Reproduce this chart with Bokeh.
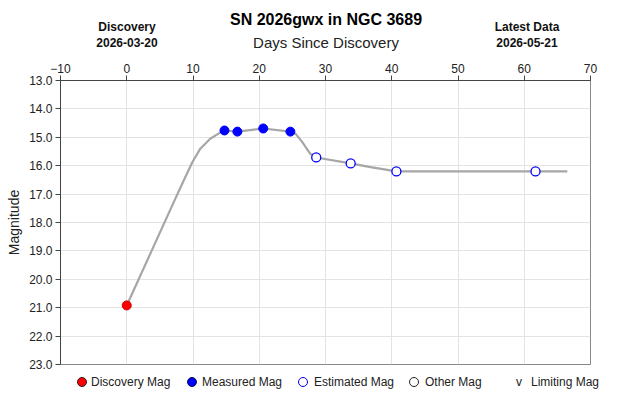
from bokeh.plotting import figure
from bokeh.layouts import column
from bokeh.models import Range1d, FixedTicker, PrintfTickFormatter, Div
from bokeh.embed import file_html
from bokeh.resources import INLINE

# Light curve of SN 2026gwx
disc_day = [0.0]
disc_mag = [20.92]

meas_day = [14.75, 16.7, 20.6, 24.7]
meas_mag = [14.76, 14.80, 14.69, 14.80]

est_day = [28.6, 33.8, 40.7, 61.7]
est_mag = [15.71, 15.92, 16.20, 16.20]

# smoothed trend line vertices
curve_day = [0.0, 7.2, 8.6, 9.9, 11.1, 12.6, 13.9, 14.75, 16.7, 20.6,
             24.7, 25.5, 26.5, 27.7, 28.6, 33.8, 36.8, 40.7, 61.7, 66.5]
curve_mag = [20.92, 17.23, 16.52, 15.88, 15.40, 15.05, 14.86, 14.76, 14.80, 14.69,
             14.80, 14.88, 15.17, 15.58, 15.71, 15.92, 16.05, 16.20, 16.20, 16.20]

x_ticks = [-10, 0, 10, 20, 30, 40, 50, 60, 70]
y_ticks = [13, 14, 15, 16, 17, 18, 19, 20, 21, 22, 23]

title_text = "SN 2026gwx in NGC 3689"
x_title = "Days Since Discovery"
left_note = ["Discovery", "2026-03-20"]
right_note = ["Latest Data", "2026-05-21"]
legend_labels = ["Discovery Mag", "Measured Mag", "Estimated Mag", "Other Mag", "Limiting Mag"]

FONT = "Liberation Sans"
HEAD_H = 56
LEG_H = 31

# ---- main chart -----------------------------------------------------------
p = figure(width=630, height=405 - HEAD_H - LEG_H, x_range=Range1d(-10, 70),
           y_range=Range1d(23, 13), x_axis_location="above", output_backend="svg",
           toolbar_location=None, min_border_left=60, min_border_right=40,
           min_border_top=80 - HEAD_H, min_border_bottom=10)

p.outline_line_color = "#888888"
p.outline_line_width = 1

xa = p.xaxis[0]
xa.ticker = FixedTicker(ticks=x_ticks)
xa.axis_label = None
ya = p.yaxis[0]
ya.ticker = FixedTicker(ticks=y_ticks)
ya.formatter = PrintfTickFormatter(format="%.1f")
ya.axis_label = "Magnitude"
ya.axis_label_text_font = FONT
ya.axis_label_text_font_style = "normal"
ya.axis_label_text_font_size = "14px"
ya.axis_label_text_color = "#222222"
ya.axis_label_standoff = 4

for ax in (xa, ya):
    ax.minor_tick_line_color = None
    ax.major_tick_in = 0
    ax.major_tick_out = 5
    ax.major_tick_line_color = "#444444"
    ax.axis_line_color = "#444444"
    ax.major_label_text_font = FONT
    ax.major_label_text_font_size = "12px"
    ax.major_label_text_color = "#222222"
    ax.major_label_standoff = 3

p.xgrid.grid_line_color = "#e3e3e3"
p.ygrid.grid_line_color = "#e3e3e3"
p.xgrid.ticker = FixedTicker(ticks=x_ticks)
p.ygrid.ticker = FixedTicker(ticks=y_ticks)

p.line(curve_day, curve_mag, line_color="#a6a6a6", line_width=2.2)

p.scatter(disc_day, disc_mag, size=9, fill_color="#ff0000", line_color="#cc0000")
p.scatter(meas_day, meas_mag, size=9, fill_color="#0000ff", line_color="#0000ff")
p.scatter(est_day, est_mag, size=9, fill_color="white", line_color="#0000ff",
          line_width=1.3)


# ---- header and legend as positioned HTML text ----------------------------
def span(x, y, html, size=12, weight="normal", color="#222222", anchor="center"):
    tx = "-50%" if anchor == "center" else "0"
    return (f'<span style="position:absolute;left:{x}px;top:{y}px;'
            f'transform:translate({tx},-50%);font-size:{size}px;font-weight:{weight};'
            f'color:{color};white-space:nowrap;line-height:1;">{html}</span>')


def dot(x, y, fill, edge, d=10, bw=1):
    return (f'<span style="position:absolute;display:block;box-sizing:border-box;'
            f'left:{x - d / 2}px;top:{y - d / 2}px;width:{d}px;height:{d}px;'
            f'border-radius:50%;background:{fill};border:{bw}px solid {edge};"></span>')


def box(w, h, inner):
    return (f'<div style="position:relative;width:{w}px;height:{h}px;'
            f'font-family:\'{FONT}\',Arial,sans-serif;">{inner}</div>')


head = [
    span(326, 20, title_text, size=16, weight="bold", color="#000000"),
    span(326, 42, x_title, size=15),
    span(127, 27, left_note[0], weight="bold", color="#111111"),
    span(127, 43, left_note[1], weight="bold", color="#111111"),
    span(527, 27, right_note[0], weight="bold", color="#111111"),
    span(527, 43, right_note[1], weight="bold", color="#111111"),
]
header = Div(text=box(630, HEAD_H, "".join(head)), width=630, height=HEAD_H,
             margin=(0, 0, 0, 0))

ly = 7.5
leg = [
    dot(81.5, ly, "#ff0000", "#222222"),
    dot(192, ly, "#0000ff", "#111144"),
    dot(303, ly, "#ffffff", "#0000ff", bw=1.5),
    dot(414, ly, "#ffffff", "#222222", bw=1.5),
    span(519, ly, "v", size=12),
]
for lx, txt in zip((91, 202, 314, 425, 531), legend_labels):
    leg.append(span(lx, ly, txt, size=12, anchor="left"))
legend = Div(text=box(630, LEG_H, "".join(leg)), width=630, height=LEG_H,
             margin=(0, 0, 0, 0))

layout = column(header, p, legend, spacing=0)
open("out.html", "w").write(file_html(layout, INLINE))
